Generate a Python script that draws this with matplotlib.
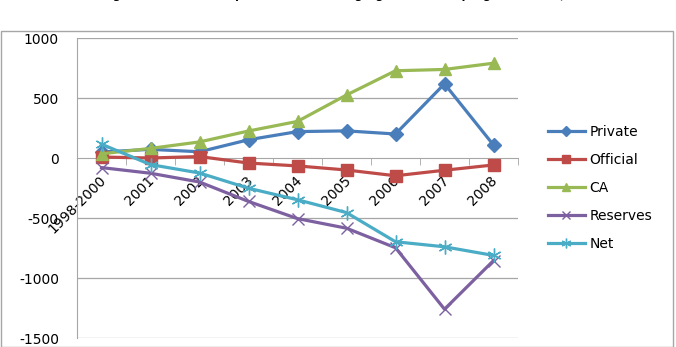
#!/usr/bin/env python3
import numpy as np
import matplotlib
matplotlib.use("Agg")
import matplotlib.pyplot as plt
import matplotlib.transforms as mtransforms
from matplotlib.patches import Rectangle

plt.rcParams['font.family'] = ['DejaVu Sans']

# ---- data ($bn) ----
years = ["1998-2000", "2001", "2002", "2003", "2004", "2005", "2006", "2007", "2008"]
private = [50, 72, 52, 152, 220, 226, 200, 618, 108]
official = [8, 0, 12, -42, -66, -100, -148, -102, -58]
ca = [35, 80, 134, 225, 305, 525, 727, 738, 790]
reserves = [-80, -127, -200, -362, -505, -585, -748, -1260, -855]
net = [115, -55, -125, -252, -348, -455, -698, -740, -812]

series = [
    ("Private", private, "#4A7EBB", "D", 7),
    ("Official", official, "#BE4B48", "s", 8),
    ("CA", ca, "#98B954", "^", 9),
    ("Reserves", reserves, "#7D60A0", "x", 9),
    ("Net", net, "#4BACC6", (6, 2, 0), 10),
]

W, H = 676, 347
fig = plt.figure(figsize=(W / 100, H / 100), dpi=100)

# outer chart border
fig.patches.append(Rectangle((1 / W, 0), (673 - 1) / W, (H - 31) / H,
                             transform=fig.transFigure, fill=False,
                             edgecolor="#a6a6a6", lw=1))

# title sits mostly above the crop, as in the source image
fig.text(347 / W, 1.0 + 6 / H,
         "Fig. 6. Net Global Capital Flows - Emerging and Developing Countries, $bn",
         ha="center", va="center", fontsize=10, fontweight="bold", style="italic",
         family=["Liberation Sans", "DejaVu Sans"])

ax = fig.add_axes([77 / W, 9 / H, (518 - 77) / W, 300 / H])
x = np.arange(len(years))
for name, vals, col, mk, ms in series:
    if mk in ("D", "s", "^"):
        ax.plot(x, vals, color=col, lw=2.3, marker=mk, ms=ms, mec=col,
                label=name, zorder=3)
    else:
        ax.plot(x, vals, color=col, lw=2.3, marker=mk, ms=ms, mew=1.0,
                label=name, zorder=3)

ax.set_xlim(-0.5, len(years) - 0.5)
ax.set_ylim(-1500, 1000)
ax.set_yticks([-1500, -1000, -500, 0, 500, 1000])
ax.set_yticklabels(["-1500", "-1000", "-500", "0", "500", "1000"])
for yv in [-1500, -1000, -500, 500, 1000]:
    ax.axhline(yv, color="#a6a6a6", lw=0.9, zorder=0)

for s in ["top", "right"]:
    ax.spines[s].set_visible(False)
ax.spines["left"].set_color("#a6a6a6")
ax.spines["bottom"].set_color("#a6a6a6")
ax.spines["bottom"].set_position(("data", 0))
ax.tick_params(axis="y", length=0, labelsize=10, pad=13)

ax.set_xticks(x)
ax.set_xticklabels(years, rotation=45, ha="right", va="top",
                   rotation_mode="anchor", fontsize=10)
ax.tick_params(axis="x", which="major", length=0, pad=0)
off = mtransforms.ScaledTranslation(-3 / 100, -15 / 100, fig.dpi_scale_trans)
for lab in ax.get_xticklabels():
    lab.set_transform(lab.get_transform() + off)
ax.set_xticks(np.arange(-0.5, len(years)), minor=True)
ax.tick_params(axis="x", which="minor", length=5, color="#a6a6a6", direction="out")

ax.legend(loc="center left", bbox_to_anchor=(1.039, 0.50), frameon=False,
          fontsize=10, handlelength=2.7, handletextpad=0.3,
          labelspacing=1.0, markerscale=0.7)

fig.savefig("out.png", dpi=100)
